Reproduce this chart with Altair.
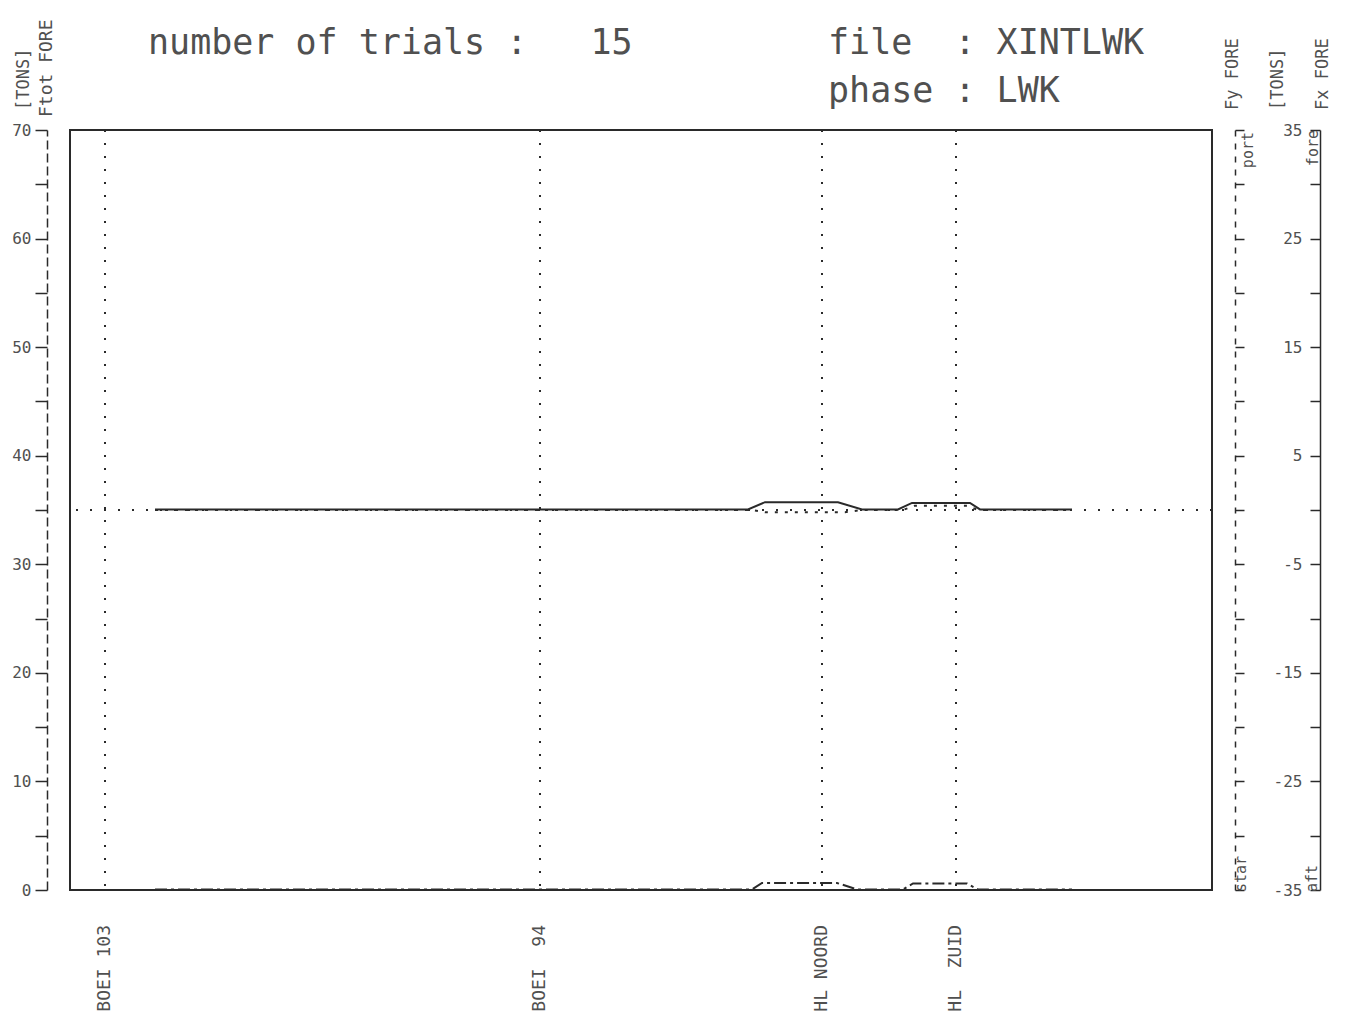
import altair as alt
import pandas as pd

# ---- data -------------------------------------------------------------
# landmarks along the track (track position in plot units)
landmark_names = ["BOEI\u00a0103", "BOEI\u00a0\u00a094", "HL\u00a0NOORD", "HL\u00a0\u00a0ZUID"]
landmark_pos = [35, 470, 752, 886]

# Ftot FORE [tons], left scale 0..70
ftot_track = [85, 682, 692, 767, 787, 833, 843, 897, 908, 1002]
ftot_value = [0.05, 0.05, 0.65, 0.65, 0.05, 0.05, 0.6, 0.6, 0.05, 0.05]

# Fx FORE [tons], right scale -35..35 (fore positive)
fx_track = [85, 678, 695, 768, 792, 828, 842, 900, 910, 1002]
fx_value = [0.05, 0.05, 0.72, 0.72, 0.05, 0.05, 0.65, 0.65, 0.05, 0.05]

# Fy FORE [tons], right scale -35..35 (port positive)
fy_track = [85, 682, 695, 775, 792, 833, 845, 897, 908, 1002]
fy_value = [0.0, 0.0, -0.2, -0.2, 0.0, 0.0, 0.4, 0.4, 0.0, 0.0]

left_ticks = list(range(0, 71, 5))
right_ticks = list(range(-35, 36, 5))

# ---- styling ----------------------------------------------------------
W, H = 1142, 760
INK = "#2a2a2a"
TXT = "#505050"
MONO = "DejaVu Sans Mono"

x_enc = alt.X("track:Q", scale=alt.Scale(domain=[0, W], nice=False, zero=False), axis=None)

ftot_df = pd.DataFrame({"track": ftot_track, "force": ftot_value})
fx_df = pd.DataFrame({"track": fx_track, "force": fx_value})
fy_df = pd.DataFrame({"track": fy_track, "force": fy_value})
lm_df = pd.DataFrame({"track": landmark_pos, "name": landmark_names})

# left axis: Ftot
ftot_y = alt.Y(
    "force:Q",
    scale=alt.Scale(domain=[0, 70], nice=False, zero=False),
    axis=alt.Axis(
        orient="left", offset=23, values=left_ticks,
        labelExpr="datum.value % 10 == 0 ? '' + datum.value : ''",
        tickSize=12, tickWidth=1.5, tickColor=INK,
        domainColor=INK, domainWidth=1.5, domainDash=[9, 4],
        labelFont=MONO, labelFontSize=16, labelColor=TXT, labelPadding=4,
        title=None, grid=False,
    ),
)
ftot = alt.Chart(ftot_df).mark_line(
    color=INK, strokeWidth=2, strokeDash=[12, 4, 3, 4]
).encode(x=x_enc, y=ftot_y)

# inner right axis: Fy
fy_y = alt.Y(
    "force:Q",
    scale=alt.Scale(domain=[-35, 35], nice=False, zero=False),
    axis=alt.Axis(
        orient="right", offset=23, values=right_ticks, labels=False,
        tickSize=9, tickWidth=1.5, tickColor=INK,
        domainColor=INK, domainWidth=1.5, domainDash=[6, 7],
        title=None, grid=False,
    ),
)
fy = alt.Chart(fy_df).mark_line(
    color=INK, strokeWidth=2, strokeDash=[3, 7]
).encode(x=x_enc, y=fy_y)

# outer right axis: Fx, ticks and labels on its inner side
fx_y = alt.Y(
    "force:Q",
    scale=alt.Scale(domain=[-35, 35], nice=False, zero=False),
    axis=alt.Axis(
        orient="left", offset=-1250, values=right_ticks,
        labelExpr="(datum.value + 35) % 10 == 0 ? '' + datum.value : ''",
        tickSize=10, tickWidth=1.5, tickColor=INK,
        domainColor=INK, domainWidth=1.5,
        labelFont=MONO, labelFontSize=16, labelColor=TXT, labelPadding=8,
        title=None, grid=False,
    ),
)
fx_line = alt.Chart(fx_df).mark_line(color=INK, strokeWidth=2).encode(x=x_enc, y=fx_y)
zero_rule = alt.Chart(pd.DataFrame({"force": [0]})).mark_rule(
    color=INK, strokeWidth=2, strokeDash=[2, 12]
).encode(y=fx_y)
fx = alt.layer(zero_rule, fx_line)

# dotted verticals at the landmarks, names below the frame
vrules = alt.Chart(lm_df).mark_rule(
    color=INK, strokeWidth=2, strokeDash=[2, 11]
).encode(x=x_enc)
lm_text = alt.Chart(lm_df).mark_text(
    angle=270, align="right", baseline="middle",
    font=MONO, fontSize=18, color=TXT,
).encode(x=x_enc, y=alt.value(795), text="name:N")


def note(text, x, y, size, angle=0, align="left", baseline="alphabetic"):
    return alt.Chart(pd.DataFrame({"t": [text]})).mark_text(
        angle=angle, align=align, baseline=baseline,
        font=MONO, fontSize=size, color=TXT,
    ).encode(x=alt.value(x), y=alt.value(y), text="t:N")


notes = [
    note("number of trials :\u00a0\u00a0\u00a015", 78, -76, 35),
    note("file\u00a0\u00a0: XINTLWK", 758, -76, 35),
    note("phase : LWK", 758, -28, 35),
    note("[TONS]", -46, -20, 17, angle=270, baseline="middle"),
    note("Ftot FORE", -23, -13, 18, angle=270, baseline="middle"),
    note("Fy FORE", 1163, -20, 17, angle=270, baseline="middle"),
    note("[TONS]", 1208, -20, 17, angle=270, baseline="middle"),
    note("Fx FORE", 1253, -20, 17, angle=270, baseline="middle"),
    note("port", 1178, 2, 15, angle=270, align="right", baseline="middle"),
    note("star", 1171, 762, 15, angle=270, baseline="middle"),
    note("fore", 1243, 0, 15, angle=270, align="right", baseline="middle"),
    note("aft", 1242, 762, 15, angle=270, baseline="middle"),
]

chart = (
    alt.layer(vrules, ftot, fy, fx, lm_text, *notes)
    .resolve_scale(y="independent")
    .properties(
        width=W, height=H,
        autosize=alt.AutoSizeParams(type="none"),
        padding={"left": 70, "top": 130, "right": 133, "bottom": 133},
        background="white",
    )
    .configure_view(stroke=INK, strokeWidth=2)
)

chart.save("out.html", embed_options={"renderer": "svg", "actions": False})
